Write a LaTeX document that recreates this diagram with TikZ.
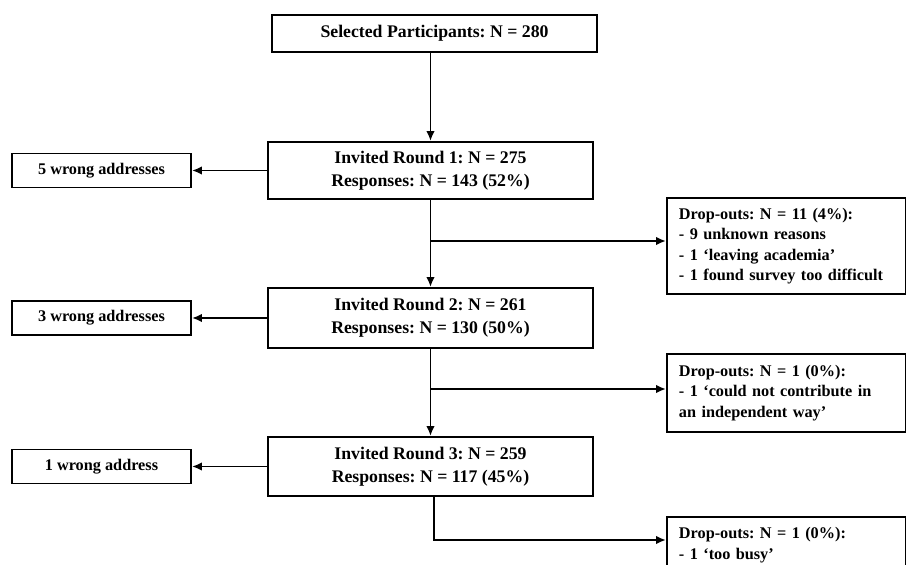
\documentclass[tikz,border=0pt]{standalone}
\usepackage{fontspec}
\setmainfont{Liberation Serif}
\usetikzlibrary{arrows.meta}
\frenchspacing

\begin{document}
\begin{tikzpicture}[
    box/.style={
        rectangle,
        draw=black,
        line width=1.1pt,
        font=\bfseries\fontsize{10.1}{13}\selectfont,
        inner sep=0pt
    },
    mainbox/.style={
        box,
        minimum width=6.5cm,
        align=center
    },
    sidebox/.style={
        box,
        minimum width=3.58cm,
        minimum height=0.68cm,
        font=\bfseries\fontsize{9.25}{11.7}\selectfont
    },
    dropbox/.style={
        box,
        anchor=west,
        text width=4.3cm,
        inner xsep=0.24cm,
        align=left,
        font=\bfseries\fontsize{9.25}{11.7}\selectfont
    },
    arrow/.style={-{Latex[length=2mm,width=1.7mm]}, line width=1.1pt}
]

\clip (0,0) rectangle (18.12,-11.3);

\node[mainbox, minimum height=0.74cm] (sel) at (8.69,-0.67) {Selected Participants: N = 280};

\node[mainbox, minimum height=1.14cm] (inv1) at (8.61,-3.41) {
Invited Round 1: N = 275\\
Responses: N = 143 (52\%)
};

\node[mainbox, minimum height=1.2cm] (inv2) at (8.61,-6.36) {
Invited Round 2: N = 261\\
Responses: N = 130 (50\%)
};

\node[mainbox, minimum height=1.18cm] (inv3) at (8.61,-9.33) {
Invited Round 3: N = 259\\
Responses: N = 117 (45\%)
};

\node[sidebox] (wrong1) at (2.03,-3.41) {5 wrong addresses};
\node[sidebox] (wrong2) at (2.03,-6.36) {3 wrong addresses};
\node[sidebox] (wrong3) at (2.03,-9.33) {1 wrong address};

\node[dropbox, minimum height=1.92cm] (drop1) at (13.32,-4.92) {
Drop-outs: N = 11 (4\%):\\
- 9 unknown reasons\\
- 1 `leaving academia'\\
- 1 found survey too difficult
};

\node[dropbox, minimum height=1.56cm] (drop2) at (13.32,-7.86) {
Drop-outs: N = 1 (0\%):\\
- 1 `could not contribute in\\
an independent way'
};

\node[dropbox, minimum height=1.12cm, anchor=north west] (drop3) at (13.32,-10.32) {
Drop-outs: N = 1 (0\%):\\
- 1 `too busy'
};

\coordinate (split1) at (8.61,-4.82);
\coordinate (split2) at (8.61,-7.78);
\coordinate (split3) at (8.68,-10.8);

\draw[arrow] (sel.south -| inv1.north) -- (inv1.north);
\draw[arrow] (inv1.south) -- (inv2.north);
\draw[arrow] (inv2.south) -- (inv3.north);

\draw[arrow] (inv1.west) -- (inv1.west -| wrong1.east);
\draw[arrow] (inv2.west) -- (inv2.west -| wrong2.east);
\draw[arrow] (inv3.west) -- (inv3.west -| wrong3.east);

\draw[arrow] (split1) -- (split1 -| drop1.west);
\draw[arrow] (split2) -- (split2 -| drop2.west);
\draw[arrow] (inv3.south -| split3) |- (split3 -| drop3.west);

\end{tikzpicture}
\end{document}
